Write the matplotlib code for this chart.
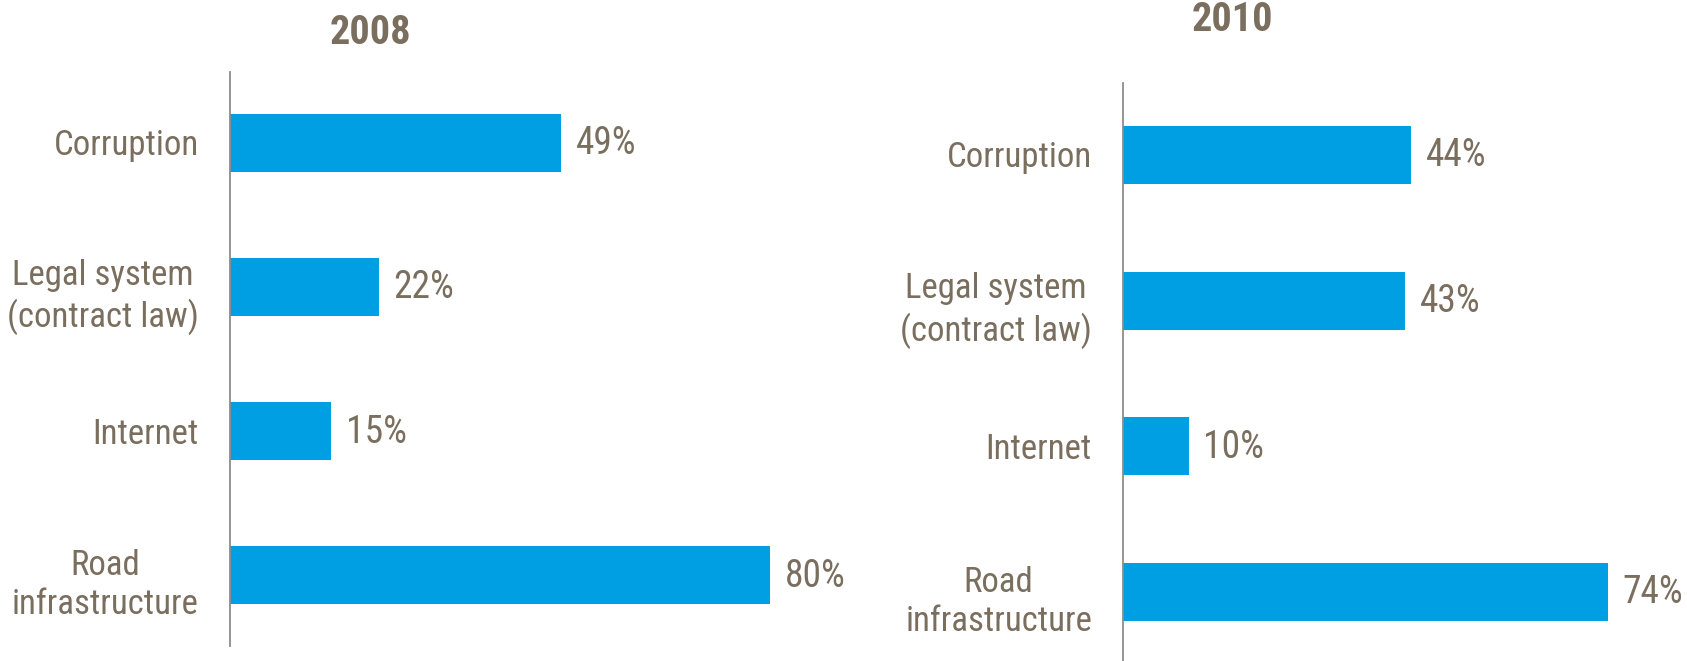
import matplotlib
matplotlib.use("Agg")
import matplotlib.pyplot as plt

categories = ["Corruption", "Legal system\n(contract law)", "Internet", "Road\ninfrastructure"]
values_2008 = [49, 22, 15, 80]
values_2010 = [44, 43, 10, 74]
titles = ["2008", "2010"]

BAR = "#009FE3"
TEXT = "#7A6E5E"

plt.rcParams["font.family"] = ["Roboto Condensed", "DejaVu Sans"]

W, H = 1687, 661
fig = plt.figure(figsize=(W / 100, H / 100), dpi=100)


def px_axes(x0, y0, w, h):
    return fig.add_axes([x0 / W, 1 - (y0 + h) / H, w / W, h / H])


panels = [
    dict(ax=px_axes(230, 72, 675, 574), ylim=(3.493, -0.493), bh=0.403,
         vals=values_2008, title=titles[0], tx=370, ty=33),
    dict(ax=px_axes(1123, 83, 655, 578), ylim=(3.474, -0.494), bh=0.398,
         vals=values_2010, title=titles[1], tx=1232, ty=20),
]

for p in panels:
    ax = p["ax"]
    y = list(range(len(categories)))
    ax.barh(y, p["vals"], height=p["bh"], color=BAR, zorder=2)
    ax.set_xlim(0, 100)
    ax.set_ylim(*p["ylim"])
    for s in ["top", "right", "bottom"]:
        ax.spines[s].set_visible(False)
    ax.spines["left"].set_color("#8C8C8C")
    ax.spines["left"].set_linewidth(1.3)
    ax.set_xticks([])
    ax.set_yticks([])
    for yi, (cat, v) in enumerate(zip(categories, p["vals"])):
        dy = -10 if "\n" in cat else -3
        ax.annotate(cat, xy=(0, yi), xytext=(-31, dy), textcoords="offset pixels",
                    ha="right", va="center", multialignment="center",
                    fontsize=25, color=TEXT, linespacing=1.25, annotation_clip=False)
        ax.annotate(f"{v}%", xy=(v, yi), xytext=(15, -1), textcoords="offset pixels",
                    ha="left", va="center", fontsize=27, color=TEXT, annotation_clip=False)
    fig.text(p["tx"] / W, 1 - p["ty"] / H, p["title"], ha="center", va="center",
             fontsize=29, fontweight="bold", color=TEXT)

fig.savefig("out.png", dpi=100, facecolor="white")
